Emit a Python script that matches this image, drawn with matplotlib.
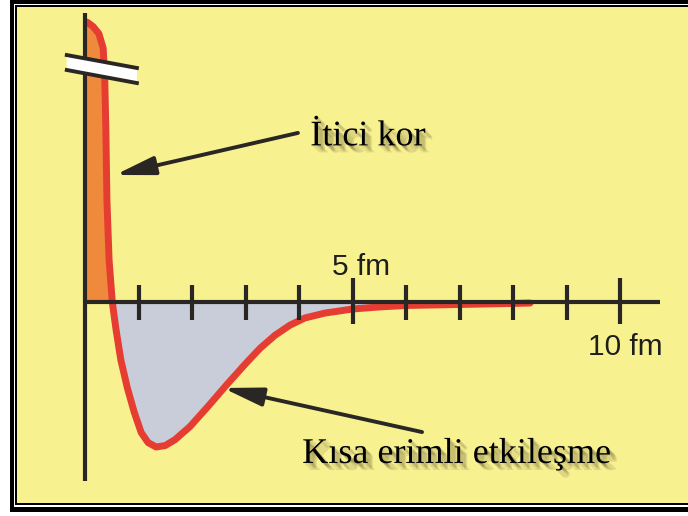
import matplotlib
matplotlib.use('Agg')
import matplotlib.pyplot as plt
import matplotlib.patches as mpat
import matplotlib.patheffects as pe
import numpy as np

################################################################################
# Values
################################################################################
# potential curve: r in fm, V in arbitrary units (well depth = -100)
R_FM = [0.04, 0.15, 0.26, 0.34, 0.37, 0.39, 0.41, 0.45, 0.51, 0.58, 0.67,
        0.79, 0.92, 1.05, 1.18, 1.33, 1.50, 1.68, 1.96, 2.30, 2.65, 2.99,
        3.27, 3.55, 3.83, 4.11, 4.49, 5.01, 5.51, 6.0, 7.01, 8.0, 8.32]
V_POT = [193, 190, 185, 175, 153, 119, 70, 29, 0, -19, -40,
         -59, -76, -90, -97, -100, -99, -95, -86, -72, -57, -43,
         -32, -23, -16, -11, -7.6, -4.8, -3.4, -2.4, -1.7, -1.0, -0.7]

TICKS = [1, 2, 3, 4, 5, 6, 7, 8, 9, 10]
LONG_TICKS = [5, 10]
TICK_TEXT = ['5 fm', '10 fm']
TICK_TEXT_POS = [(5.16, 24), (10.09, -31)]

LABELS = ['İtici kor', 'Kısa erimli etkileşme']
LABEL_POS = [(4.21, 108), (4.06, -111)]
ARROW_TAIL = [(3.98, 116.6), (6.30, -89.7)]
ARROW_TIP = [(0.56, 87.6), (2.58, -59.3)]

# axis extents and the break mark on the vertical axis
X_AXIS_END = 10.75
Y_AXIS = (-123.4, 199.3)
BREAK_X = [-0.34, 0.97]
BREAK_TOP = [170.3, 161.4]
BREAK_BOT = [160.0, 151.0]

YELLOW = '#f8f18f'
ORANGE = '#ef8a3c'
RED = '#e63d33'
GREY = '#c9cdd9'
INK = '#2a2624'

################################################################################
# Figure and frame
################################################################################
W, H = 688, 516
fig = plt.figure(figsize=(W/100, H/100), dpi=100, facecolor='white')

def frame_rect(x0, y0, x1, y1, color):
    #pixel box (top-left origin) -> figure fraction
    fig.patches.append(mpat.Rectangle((x0/W, 1 - y1/H), (x1-x0)/W, (y1-y0)/H,
                                      transform=fig.transFigure,
                                      facecolor=color, edgecolor='none',
                                      zorder=-10))

frame_rect(10, 0, 700, 512, 'black')
frame_rect(14, 4, 700, 507, 'white')
frame_rect(15.5, 5, 700, 505, 'black')
frame_rect(17, 7, 700, 503, YELLOW)

#axes cover the whole figure; origin of the plot sits at pixel (85, 302)
ax = fig.add_axes([0, 0, 1, 1])
ax.set_zorder(1)
ax.set_xlim(-85/53.5, (W-85)/53.5)
ax.set_ylim((302-H)/1.45, 302/1.45)
ax.axis('off')
ax.patch.set_alpha(0)

################################################################################
# Curve and fills
################################################################################
r = np.array(R_FM)
v = np.array(V_POT)
pos = v >= 0
neg = v <= 0

ax.fill(np.concatenate([[0], r[pos], [0]]),
        np.concatenate([[v[0]], v[pos], [0]]),
        color=ORANGE, lw=0, zorder=1)
ax.fill_between(r[neg], v[neg], 0, color=GREY, lw=0, zorder=1)
ax.plot(r, v, color=RED, lw=5.0, solid_capstyle='round',
        solid_joinstyle='round', zorder=2)

################################################################################
# Axes, ticks, labels
################################################################################
ax.plot([0, X_AXIS_END], [0, 0], color=INK, lw=3.0, zorder=3,
        solid_capstyle='butt')
ax.plot([0, 0], Y_AXIS, color=INK, lw=3.0, zorder=3, solid_capstyle='butt')

short = [t for t in TICKS if t not in LONG_TICKS]
ax.vlines(short, -12.4, 11.7, color=INK, lw=3.0, zorder=3)
ax.vlines(LONG_TICKS, -15.2, 16.6, color=INK, lw=3.0, zorder=3)

for txt, (tx, ty) in zip(TICK_TEXT, TICK_TEXT_POS):
    ax.text(tx, ty, txt, ha='center', va='center', fontsize=21.5,
            family='Liberation Sans', color='#1e1e1e', zorder=4)

#break mark
ax.fill(BREAK_X + BREAK_X[::-1], BREAK_TOP + BREAK_BOT[::-1],
        color='white', lw=0, zorder=5)
ax.plot(BREAK_X, BREAK_TOP, color=INK, lw=2.8, zorder=6)
ax.plot(BREAK_X, BREAK_BOT, color=INK, lw=2.8, zorder=6)

#labels with a soft drop shadow
shadow = [pe.SimplePatchShadow(offset=(o, -o), shadow_rgbFace='#5a5030',
                               alpha=0.16) for o in (1.0, 2.0, 3.0, 4.0, 5.0)]
shadow.append(pe.Normal())
for txt, (tx, ty) in zip(LABELS, LABEL_POS):
    ax.text(tx, ty, txt, ha='left', va='baseline', fontsize=26,
            family='Liberation Serif', color='black', zorder=7,
            path_effects=shadow)

for tail, tip in zip(ARROW_TAIL, ARROW_TIP):
    ax.annotate('', xy=tip, xytext=tail, zorder=7,
                arrowprops=dict(arrowstyle='-|>,head_length=1.2,head_width=0.28',
                                mutation_scale=20, color=INK, lw=2.8,
                                shrinkA=0, shrinkB=0))

plt.savefig('out.png', dpi=100)
plt.close()
